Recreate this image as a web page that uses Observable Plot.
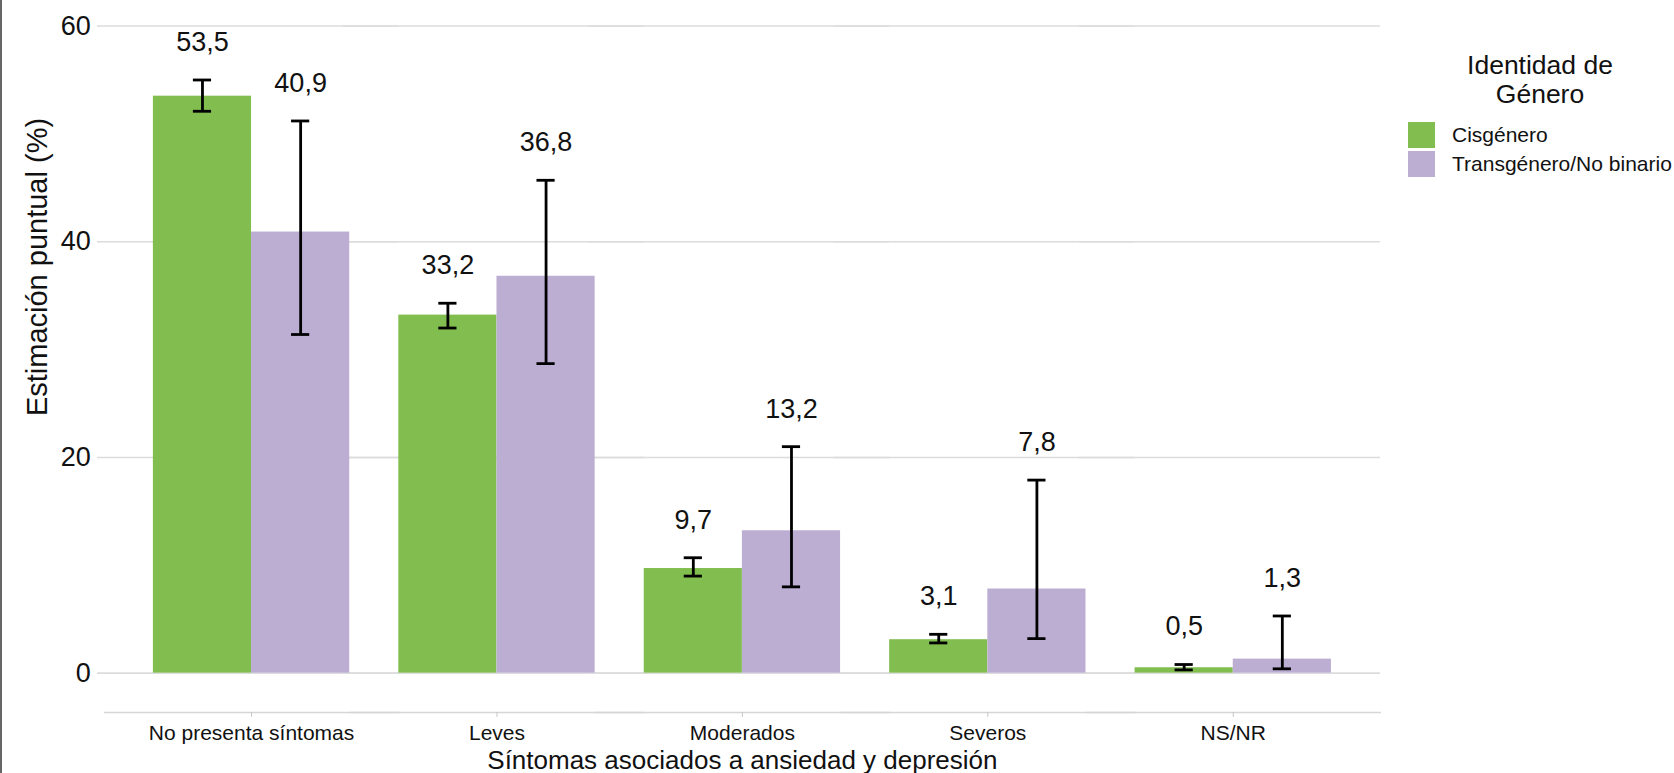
<!DOCTYPE html>
<html>
<head>
<meta charset="utf-8">
<script src="https://cdn.jsdelivr.net/npm/d3@7"></script>
<script src="https://cdn.jsdelivr.net/npm/@observablehq/plot@0.6"></script>
<style>
  body { margin: 0; background: #fff; }
  #wrap { position: relative; width: 1674px; height: 773px; overflow: hidden;
          font-family: "Liberation Sans", Arial, sans-serif; color: #111; background: #fff; }
  #chart { position: absolute; left: 0; top: 0; }
  #edge { position: absolute; left: 0; top: 0; width: 2px; height: 773px; background: #666; }
  .leg-title { position: absolute; left: 1420px; width: 240px; top: 51px; text-align: center;
               font-size: 26.5px; line-height: 29px; }
  .leg-item { position: absolute; left: 1408px; height: 26px; display: flex; align-items: center; }
  .leg-sw { width: 27px; height: 26px; }
  .leg-lab { position: absolute; left: 44px; white-space: nowrap; font-size: 21px; line-height: 26px; top: 0; }
</style>
</head>
<body>
<div id="wrap">
  <div id="chart"></div>
  <div id="legend"></div>
  <div id="edge"></div>
</div>
<script>
// ---- data ----
const categories = ["No presenta síntomas", "Leves", "Moderados", "Severos", "NS/NR"];
const genders = ["Cisgénero", "Transgénero/No binario"];
const cisValues = [53.5, 33.2, 9.7, 3.1, 0.5];
const cisLower  = [52.1, 32.0, 9.0, 2.8, 0.3];
const cisUpper  = [55.0, 34.3, 10.7, 3.6, 0.8];
const transValues = [40.9, 36.8, 13.2, 7.8, 1.3];
const transLower  = [31.4, 28.7, 8.0, 3.2, 0.4];
const transUpper  = [51.2, 45.7, 21.0, 17.9, 5.3];
const yTicks = [0, 20, 40, 60];
const colors = ["#81BE4F", "#BCADD3"];
const legendTitle = ["Identidad de", "Género"];
const xTitle = "Síntomas asociados a ansiedad y depresión";
const yTitle = "Estimación puntual (%)";

// ---- table ----
const table = [];
categories.forEach((c, i) => {
  table.push({cat: c, gender: genders[0], value: cisValues[i], lo: cisLower[i], hi: cisUpper[i]});
  table.push({cat: c, gender: genders[1], value: transValues[i], lo: transLower[i], hi: transUpper[i]});
});
const fmt = v => v.toFixed(1).replace(".", ",");

const yMin = -3.65, yMax = 62;
const errStyle = {stroke: "#000", strokeWidth: 2.8};

const chart = Plot.plot({
  width: 1674,
  height: 773,
  marginLeft: 103.8,
  marginRight: 294,
  marginTop: 4,
  marginBottom: 61,
  style: {fontFamily: '"Liberation Sans", Arial, sans-serif', fontSize: "21px", color: "#111", background: "transparent"},
  fx: {domain: categories, paddingInner: 0, paddingOuter: 0.1, round: false, label: null},
  x: {domain: genders, paddingInner: 0, paddingOuter: 0.25, round: false, axis: null},
  y: {domain: [yMin, yMax], axis: null},
  color: {domain: genders, range: colors},
  marks: [
    Plot.ruleY(yTicks, {stroke: "#dcdcdc", strokeWidth: 1.6, insetLeft: -31.3, insetRight: -24.6}),
    Plot.ruleY([yMin], {stroke: "#d6d6d6", strokeWidth: 1.6, insetLeft: -24.5, insetRight: -25.6}),
    Plot.barY(table, {fx: "cat", x: "gender", y: "value", fill: "gender"}),
    Plot.ruleX(table, {fx: "cat", x: "gender", y1: "lo", y2: "hi", ...errStyle}),
    Plot.tickY(table, {fx: "cat", x: "gender", y: "lo", insetLeft: 40, insetRight: 40, ...errStyle}),
    Plot.tickY(table, {fx: "cat", x: "gender", y: "hi", insetLeft: 40, insetRight: 40, ...errStyle}),
    Plot.text(table, {fx: "cat", x: "gender", y: "hi", text: d => fmt(d.value), dy: -37.7, fontSize: 27, fill: "#111"}),
    Plot.axisY({ticks: yTicks, tickSize: 0, tickPadding: 38, fontSize: 27, fill: "#111", label: null}),
    // y-axis title, drawn in the first facet only
    Plot.text([yTitle], {fx: () => categories[0], text: d => d, frameAnchor: "left", textAnchor: "middle",
                         lineAnchor: "middle", rotate: -90, dx: -91.3, dy: -91.5, fontSize: 29, fill: "#111"}),
    Plot.axisFx({anchor: "bottom", tickSize: 5, tickPadding: 8, fontSize: 21, label: null, stroke: "#c8c8c8", fill: "#111"}),
    Plot.axisFx({anchor: "bottom", tickSize: 0, tickFormat: () => "", fontSize: 26, fill: "#111", dx: 4,
                 label: xTitle, labelAnchor: "center", labelOffset: 56, labelArrow: "none"})
  ]
});
document.getElementById("chart").appendChild(chart);

// ---- legend ----
const leg = document.getElementById("legend");
const t = document.createElement("div");
t.className = "leg-title";
t.innerHTML = legendTitle.join("<br>");
leg.appendChild(t);
genders.forEach((g, i) => {
  const item = document.createElement("div");
  item.className = "leg-item";
  item.style.top = (122 + i * 29) + "px";
  const sw = document.createElement("div");
  sw.className = "leg-sw";
  sw.style.background = colors[i];
  const lab = document.createElement("div");
  lab.className = "leg-lab";
  lab.textContent = g;
  item.appendChild(sw);
  item.appendChild(lab);
  leg.appendChild(item);
});
</script>
</body>
</html>
